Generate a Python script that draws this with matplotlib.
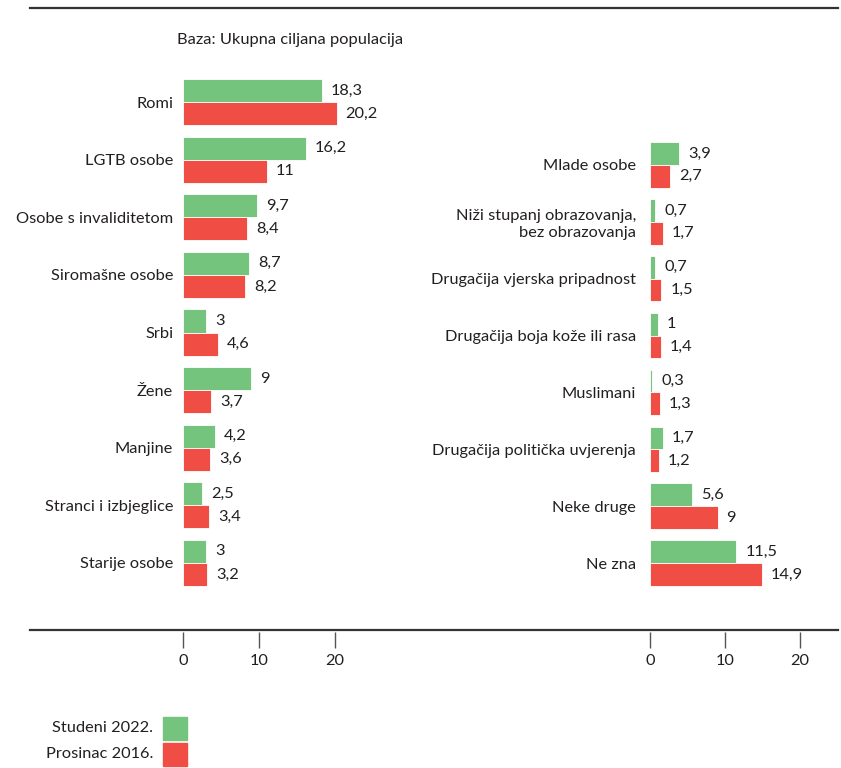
import matplotlib
matplotlib.use("Agg")
import matplotlib.pyplot as plt
from matplotlib.lines import Line2D
from matplotlib.patches import Rectangle

plt.rcParams['font.family'] = ['Lato', 'DejaVu Sans']

left_cats = ["Romi", "LGTB osobe", "Osobe s invaliditetom", "Siromašne osobe", "Srbi",
             "Žene", "Manjine", "Stranci i izbjeglice", "Starije osobe"]
left_2022 = [18.3, 16.2, 9.7, 8.7, 3, 9, 4.2, 2.5, 3]
left_2016 = [20.2, 11, 8.4, 8.2, 4.6, 3.7, 3.6, 3.4, 3.2]

right_cats = ["Mlade osobe", "Niži stupanj obrazovanja,\nbez obrazovanja",
              "Drugačija vjerska pripadnost", "Drugačija boja kože ili rasa", "Muslimani",
              "Drugačija politička uvjerenja", "Neke druge", "Ne zna"]
right_2022 = [3.9, 0.7, 0.7, 1, 0.3, 1.7, 5.6, 11.5]
right_2016 = [2.7, 1.7, 1.5, 1.4, 1.3, 1.2, 9, 14.9]

series_labels = ["Studeni 2022.", "Prosinac 2016."]
ticks = [0, 10, 20]

GREEN = "#74C47E"
RED = "#F04E45"
TXT = "#231F20"
FS = 11.8

W, H = 841, 768
fig = plt.figure(figsize=(W / 100, H / 100), dpi=100)


def fig_rect(x0, y_top, x1, y_bot):
    return [x0 / W, 1 - y_bot / H, (x1 - x0) / W, (y_bot - y_top) / H]


def fmt(v):
    s = f"{v:g}"
    return s.replace(".", ",")


def panel(rect, cats, a, b, pad, bottom_px):
    ax = fig.add_axes(rect)
    n = len(cats)
    pos = list(range(n))
    h = 0.4
    ax.barh([p - h / 2 for p in pos], a, height=h, color=GREEN, edgecolor="white", linewidth=0.6)
    ax.barh([p + h / 2 for p in pos], b, height=h, color=RED, edgecolor="white", linewidth=0.6)
    for p, v in zip(pos, a):
        ax.annotate(fmt(v), (v, p - h / 2), xytext=(6.5, 0), textcoords="offset points",
                    va="center", ha="left", fontsize=FS, color=TXT)
    for p, v in zip(pos, b):
        ax.annotate(fmt(v), (v, p + h / 2), xytext=(6.5, 0), textcoords="offset points",
                    va="center", ha="left", fontsize=FS, color=TXT)
    ax.set_xlim(0, 25)
    ax.set_ylim(n - 0.5, -0.5)
    ax.set_yticks(pos)
    ax.set_yticklabels(cats, fontsize=FS, color=TXT, ha="right")
    ax.tick_params(axis="y", length=0, pad=pad)
    for s in ax.spines.values():
        s.set_visible(False)
    ax.spines['bottom'].set_position(('outward', bottom_px * 0.72))
    ax.set_xticks(ticks)
    ax.set_xticklabels([str(t) for t in ticks], fontsize=FS, color=TXT)
    ax.tick_params(axis="x", length=11.5, width=1, color="#555555", pad=4)
    ax.patch.set_visible(False)
    return ax


# left panel: zero at x=183, 7.6 px/unit; rows centred at 102 + 57.6*i
lx0 = 183
lx1 = lx0 + 7.6 * 25
ly0 = 102 - 28.8
ly1 = 563 + 28.8
panel(fig_rect(lx0, ly0, lx1, ly1), left_cats, left_2022, left_2016, 7, 632 - ly1)

# right panel: zero at x=650, 7.5 px/unit; rows centred at 165 + 56.9*i
rx0 = 650
rx1 = rx0 + 7.5 * 25
ry0 = 165 - 28.45
ry1 = 563 + 28.45
panel(fig_rect(rx0, ry0, rx1, ry1), right_cats, right_2022, right_2016, 10, 632 - ry1)

# top and bottom rules
fig.add_artist(Line2D([30 / W, 838 / W], [1 - 8 / H, 1 - 8 / H], color="#333333", linewidth=1.6))
fig.add_artist(Line2D([30 / W, 838 / W], [1 - 630 / H, 1 - 630 / H], color="#333333", linewidth=1.6))

fig.text(177 / W, 1 - 40 / H, "Baza: Ukupna ciljana populacija", fontsize=FS, color=TXT,
         ha="left", va="center")

# legend
for i, (lab, col) in enumerate(zip(series_labels, [GREEN, RED])):
    yc = 728.5 + i * 26
    fig.add_artist(Rectangle((163 / W, 1 - (yc + 11.5) / H), 24 / W, 23 / H,
                             transform=fig.transFigure, color=col))
    fig.text(153 / W, 1 - yc / H, lab, fontsize=FS, color=TXT, ha="right", va="center")

fig.savefig("out.png", dpi=100)
